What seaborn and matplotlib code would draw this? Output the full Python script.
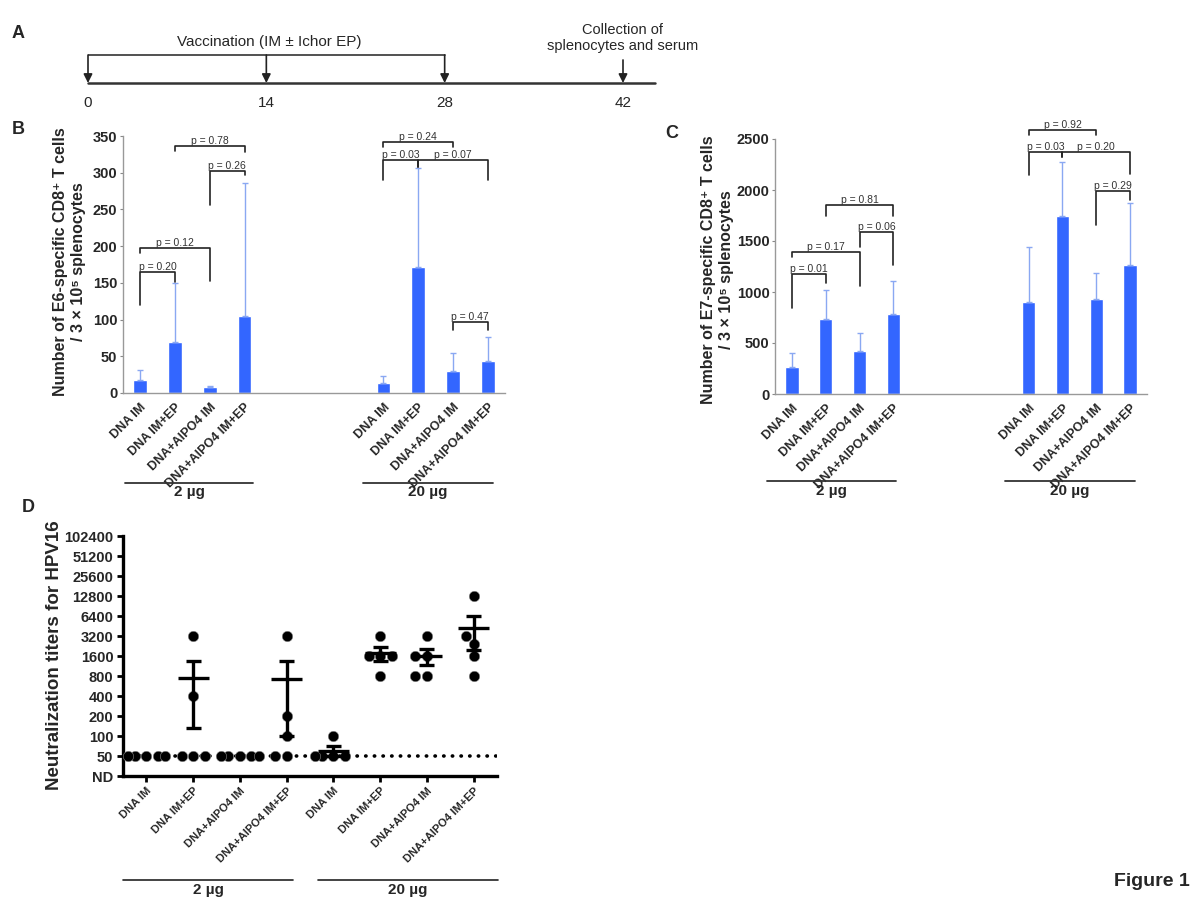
import numpy as np
import pandas as pd
import seaborn as sns
import matplotlib.pyplot as plt

sns.set_style("white")
plt.rcParams['font.family'] = ['Liberation Sans', 'DejaVu Sans']

# ---- data ----
days = [0, 14, 28, 42]
vacc_days = [0, 14, 28]

group_names = ["DNA IM", "DNA IM+EP", "DNA+AlPO4 IM", "DNA+AlPO4 IM+EP"]
doses = ["2 µg", "20 µg"]
slots = [0, 1, 2, 3, 7, 8, 9, 10]   # bar slots, 3 empty between dose groups

e6_mean = [18, 69, 8, 105, 14, 171, 30, 44]
e6_top = [31, 150, 9, 286, 23, 307, 55, 76]
e7_mean = [265, 735, 420, 780, 905, 1750, 930, 1265]
e7_top = [400, 1020, 600, 1110, 1440, 2270, 1190, 1870]

# (slot i, slot j, top, left leg end, right leg end, label)
e6_brackets = [
    (0, 1, 165, 120, 151, "p = 0.20"),
    (0, 2, 198, 190, 152, "p = 0.12"),
    (1, 3, 336, 330, 328, "p = 0.78"),
    (2, 3, 303, 256, 297, "p = 0.26"),
    (7, 9, 342, 335, 335, "p = 0.24"),
    (7, 8, 317, 290, 308, "p = 0.03"),
    (8, 10, 317, 308, 290, "p = 0.07"),
    (9, 10, 97, 86, 86, "p = 0.47"),
]
e7_brackets = [
    (0, 1, 1175, 847, 1086, "p = 0.01"),
    (0, 2, 1390, 1348, 1063, "p = 0.17"),
    (2, 3, 1584, 1446, 1260, "p = 0.06"),
    (1, 3, 1849, 1741, 1741, "p = 0.81"),
    (7, 9, 2591, 2542, 2542, "p = 0.92"),
    (7, 8, 2369, 2150, 2323, "p = 0.03"),
    (8, 10, 2369, 2323, 2160, "p = 0.20"),
    (9, 10, 1989, 1659, 1904, "p = 0.29"),
]

titers = [
    [50, 50, 50, 50, 50],
    [3200, 400, 50, 50, 50],
    [50, 50, 50, 50, 50],
    [3200, 200, 100, 50, 50],
    [100, 50, 50, 50, 50],
    [3200, 1600, 1600, 1600, 800],
    [3200, 1600, 1600, 800, 800],
    [12800, 3200, 2400, 1600, 800],
]
titer_ticks = [25, 50, 100, 200, 400, 800, 1600, 3200, 6400, 12800, 25600, 51200, 102400]
titer_labels = ["ND", "50", "100", "200", "400", "800", "1600", "3200", "6400",
                "12800", "25600", "51200", "102400"]
nd_cutoff = 50

BAR = "#3366FF"
ERR = "#8AA8F2"

W, H = 1200, 900
fig = plt.figure(figsize=(12, 9), dpi=100)


def rect(x0, y0, x1, y1):
    # pixel box (top-left origin) -> figure fraction
    return [x0 / W, 1 - y1 / H, (x1 - x0) / W, (y1 - y0) / H]


def ftext(px, py, s, **kw):
    fig.text(px / W, 1 - py / H, s, **kw)


def fline(x0, x1, py, lw=1.3, color="#333333"):
    fig.add_artist(plt.Line2D([x0 / W, x1 / W], [1 - py / H, 1 - py / H],
                              color=color, lw=lw))


# ---- panel A: timeline ----
axa = fig.add_axes(rect(88, 20, 623, 110))
axa.set_xlim(days[0], days[-1])
axa.set_ylim(0, 1)
axa.axis("off")
y_line, y_brk = 0.3, 0.611
axa.plot([days[0], 44.5], [y_line, y_line], color="#333333", lw=1.8, clip_on=False)
axa.plot([vacc_days[0], vacc_days[-1]], [y_brk, y_brk], color="#333333", lw=1.2)
for d in vacc_days:
    axa.annotate("", xy=(d, y_line), xytext=(d, y_brk),
                 arrowprops=dict(arrowstyle="-|>", color="#222222", lw=1.2,
                                 mutation_scale=13, shrinkA=0, shrinkB=0))
axa.annotate("", xy=(days[-1], y_line), xytext=(days[-1], 0.556),
             arrowprops=dict(arrowstyle="-|>", color="#222222", lw=1.2,
                             mutation_scale=13, shrinkA=0, shrinkB=0))
for d in days:
    axa.text(d, 0.078, str(d), ha="center", va="center", fontsize=11)
axa.text(14.2, 0.756, "Vaccination (IM ± Ichor EP)", ha="center", va="center", fontsize=11)
axa.text(days[-1], 0.8, "Collection of\nsplenocytes and serum", ha="center", va="center",
         fontsize=10.5, linespacing=1.1)


# ---- panels B and C: bar charts ----
def bar_panel(ax, means, tops, brackets, ymax, ystep):
    df = pd.DataFrame({"pos": slots, "value": means})
    sns.barplot(data=df, x="pos", y="value", native_scale=True, width=0.4,
                color=BAR, saturation=1, errorbar=None, ax=ax)
    lower = np.zeros(len(means))
    upper = np.array(tops) - np.array(means)
    ax.errorbar(slots, means, yerr=[lower, upper], fmt="none", ecolor=ERR,
                elinewidth=1, capsize=2, capthick=1)
    ax.set_xlim(-0.5, 10.5)
    ax.set_ylim(0, ymax)
    ax.set_yticks(np.arange(0, ymax + 1, ystep))
    ax.set_yticklabels([str(v) for v in np.arange(0, ymax + 1, ystep)],
                       fontweight="bold", fontsize=10.5)
    ax.set_xticks(slots)
    ax.set_xticklabels(group_names * 2, rotation=45, ha="right", va="top",
                       rotation_mode="anchor", fontweight="bold", fontsize=9)
    ax.set_xticks(np.arange(-0.5, 11, 1), minor=True)
    ax.tick_params(axis="x", which="major", length=0, pad=6)
    ax.tick_params(axis="x", which="minor", length=3, color="#888888", direction="out")
    ax.tick_params(axis="y", length=2, color="#888888", left=True, pad=2)
    ax.set_xlabel("")
    ax.set_ylabel("")
    sns.despine(ax=ax)
    for s in ["left", "bottom"]:
        ax.spines[s].set_color("#999999")
        ax.spines[s].set_linewidth(1)
    for i, j, top, yl, yr, lab in brackets:
        ax.plot([i, i, j, j], [yl, top, top, yr], color="#222222", lw=1.2, clip_on=False)
        ax.text((i + j) / 2, top, lab, ha="center", va="bottom", fontsize=7.5,
                color="#333333", clip_on=False)


axb = fig.add_axes(rect(123, 136, 505, 393))
bar_panel(axb, e6_mean, e6_top, e6_brackets, 350, 50)
axc = fig.add_axes(rect(775, 139, 1147, 394))
bar_panel(axc, e7_mean, e7_top, e7_brackets, 2500, 500)

ftext(70, 262, "Number of E6-specific CD8⁺ T cells\n/ 3 × 10⁵ splenocytes", rotation=90,
      ha="center", va="center", fontsize=11.5, fontweight="bold", multialignment="center",
      linespacing=1.25)
ftext(717, 270, "Number of E7-specific CD8⁺ T cells\n/ 3 × 10⁵ splenocytes", rotation=90,
      ha="center", va="center", fontsize=11.5, fontweight="bold", multialignment="center",
      linespacing=1.25)

# dose group underlines
for (x0, x1, yl, yt), d in zip([(125, 253, 483, 492), (363, 493, 483, 492)], doses):
    fline(x0, x1, yl)
    ftext((x0 + x1) / 2, yt, d, ha="center", va="center", fontsize=11, fontweight="bold")
for (x0, x1, yl, yt), d in zip([(767, 896, 481, 491), (1005, 1135, 481, 491)], doses):
    fline(x0, x1, yl)
    ftext((x0 + x1) / 2, yt, d, ha="center", va="center", fontsize=11, fontweight="bold")

# ---- panel D: neutralization titers ----
axd = fig.add_axes(rect(123, 536, 497, 776))
long = pd.DataFrame({
    "group": np.repeat(np.arange(len(titers)), [len(t) for t in titers]),
    "titer": np.concatenate(titers),
})
axd.axhline(nd_cutoff, color="black", lw=2.6, ls=(0, (0.1, 2.3)),
            dash_capstyle="round", zorder=1)
sns.swarmplot(data=long, x="group", y="titer", color="black", size=7.5,
              edgecolor="#888888", linewidth=0.4, log_scale=(False, 2), ax=axd, zorder=3,
              warn_thresh=1)
for g, vals in enumerate(titers):
    vals = np.array(vals, dtype=float)
    m = vals.mean()
    se = vals.std(ddof=1) / np.sqrt(len(vals))
    if se == 0:
        continue
    axd.hlines(m, g - 0.33, g + 0.33, color="black", lw=2.4, zorder=4)
    axd.vlines(g, m - se, m + se, color="black", lw=2.4, zorder=4)
    axd.hlines([m - se, m + se], g - 0.16, g + 0.16, color="black", lw=2.4, zorder=4)
axd.set_yscale("log", base=2)
axd.set_ylim(titer_ticks[0], titer_ticks[-1])
axd.set_yticks(titer_ticks)
axd.set_yticklabels(titer_labels, fontweight="bold", fontsize=10.5)
axd.minorticks_off()
axd.set_xlim(-0.5, len(titers) - 0.5)
axd.set_xticks(range(len(titers)))
axd.set_xticklabels(group_names * 2, rotation=45, ha="right", va="top",
                    rotation_mode="anchor", fontweight="bold", fontsize=8)
axd.tick_params(axis="both", length=4, width=2, color="black", direction="out",
                left=True, bottom=True, pad=3)
axd.set_xlabel("")
axd.set_ylabel("")
sns.despine(ax=axd)
for s in ["left", "bottom"]:
    axd.spines[s].set_linewidth(2.4)
    axd.spines[s].set_color("black")
ftext(55, 655, "Neutralization titers for HPV16", rotation=90, ha="center", va="center",
      fontsize=13.5, fontweight="bold")
for (x0, x1), d in zip([(123, 293), (318, 498)], doses):
    fline(x0, x1, 880, lw=1.2, color="#222222")
    ftext((x0 + x1) / 2, 890, d, ha="center", va="center", fontsize=11, fontweight="bold")

# panel letters
for lab, px, py in [("A", 18, 33), ("B", 18, 130), ("C", 672, 133), ("D", 28, 507)]:
    ftext(px, py, lab, ha="center", va="center", fontsize=13, fontweight="bold")
ftext(1190, 881, "Figure 1", ha="right", va="center", fontsize=14, fontweight="bold")

fig.savefig("out.png", dpi=100)
